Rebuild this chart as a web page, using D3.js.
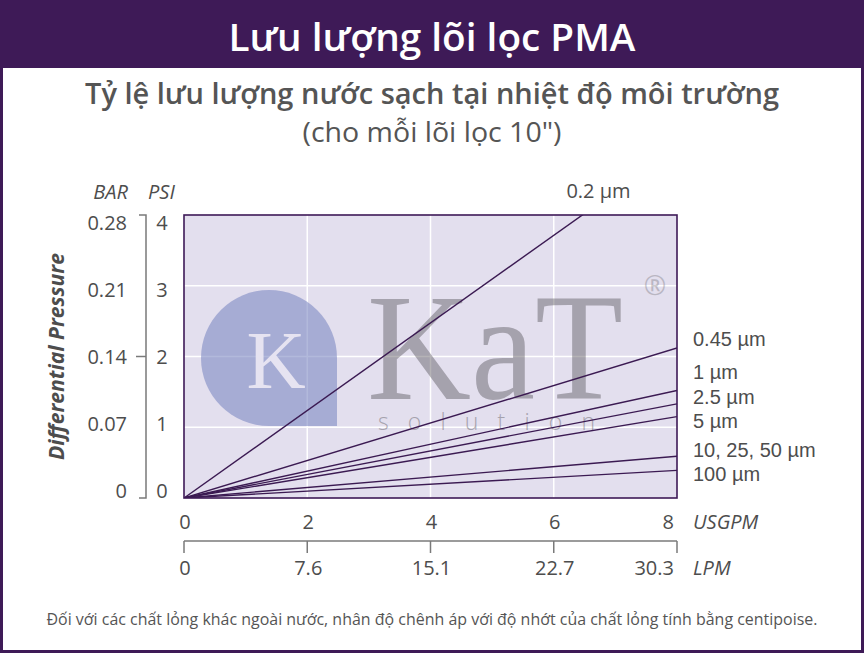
<html>
<head>
<meta charset="utf-8">
<script src="https://d3js.org/d3.v7.min.js"></script>
<style>
  body { margin: 0; background: #fff; }
  svg text { font-family: "Open Sans", "Noto Sans", sans-serif; }
  svg text.serif, svg tspan.serif { font-family: "Liberation Serif", "DejaVu Serif", serif; }
  svg text.tight { font-family: "Liberation Sans", Arial, sans-serif; }
</style>
</head>
<body>
<div id="chart"></div>
<script>
// chart values
const usgpmTicks = [0, 2, 4, 6, 8];
const lpmLabels = ["0", "7.6", "15.1", "22.7", "30.3"];
const psiTicks = [0, 1, 2, 3, 4];
const barLabels = ["0", "0.07", "0.14", "0.21", "0.28"];
const ratings = ["0.2 µm", "0.45 µm", "1 µm", "2.5 µm", "5 µm", "10, 25, 50 µm", "100 µm"];
const psiAt8gpm = [4.95, 2.12, 1.52, 1.33, 1.15, 0.59, 0.39];

// hand placed label nudges (px) for the right-hand labels
const labelNudge = [0, -9, -18, -7, 4, -6, 4];

const W = 864, H = 653;
const purple = "#3e1a57", ink = "#4d4d4d", axisGray = "#7a7a7a";

const svg = d3.select("#chart").append("svg")
    .attr("width", W).attr("height", H);

// frame + title band
svg.append("rect").attr("x", 0).attr("y", 0).attr("width", W).attr("height", H).attr("fill", "#fff");
svg.append("rect").attr("x", 0).attr("y", 0).attr("width", W).attr("height", 68).attr("fill", purple);
svg.append("rect").attr("x", 1.5).attr("y", 1.5).attr("width", W - 3).attr("height", H - 3)
    .attr("fill", "none").attr("stroke", purple).attr("stroke-width", 3);

svg.append("text").attr("x", W / 2).attr("y", 51).attr("text-anchor", "middle")
    .attr("fill", "#fff").attr("font-size", 38.5).attr("font-weight", 600)
    .attr("textLength", 407).attr("lengthAdjust", "spacingAndGlyphs")
    .text("Lưu lượng lõi lọc PMA");
svg.append("text").attr("x", W / 2).attr("y", 104).attr("text-anchor", "middle")
    .attr("fill", "#555").attr("font-size", 29).attr("font-weight", 600)
    .attr("textLength", 694).attr("lengthAdjust", "spacingAndGlyphs")
    .text("Tỷ lệ lưu lượng nước sạch tại nhiệt độ môi trường");
svg.append("text").attr("x", W / 2).attr("y", 142).attr("text-anchor", "middle")
    .attr("fill", "#555").attr("font-size", 27)
    .attr("textLength", 259).attr("lengthAdjust", "spacingAndGlyphs")
    .text("(cho mỗi lõi lọc 10\")");

// scales
const x = d3.scaleLinear().domain([0, 8]).range([184, 677]);
const y = d3.scaleLinear().domain([0, 4]).range([498, 215]);
const yLabel = d3.scaleLinear().domain([0, 4]).range([491, 223]);

// plot background + grid
svg.append("rect").attr("x", x(0)).attr("y", y(4))
    .attr("width", x(8) - x(0)).attr("height", y(0) - y(4)).attr("fill", "#e3dfee");

const grid = svg.append("g").attr("stroke", "#fff").attr("stroke-width", 1.5);
grid.selectAll(".vg").data(usgpmTicks.slice(1, -1)).enter().append("line")
    .attr("x1", d => x(d)).attr("x2", d => x(d)).attr("y1", y(4)).attr("y2", y(0));
grid.selectAll(".hg").data(psiTicks.slice(1, -1)).enter().append("line")
    .attr("y1", d => y(d)).attr("y2", d => y(d)).attr("x1", x(0)).attr("x2", x(8));

// watermark logo (semi transparent, grid shows through)
const wm = svg.append("g");
wm.append("path")
    .attr("d", "M269,426 A68,68 0 1 1 337,358 L337,426 Z")
    .attr("fill", "#7a86c1").attr("opacity", 0.58);
wm.append("text").attr("class", "serif").attr("x", 276).attr("y", 388).attr("text-anchor", "middle")
    .attr("font-size", 82).attr("fill", "#e6e3f1").text("K");
const kat = wm.append("text").attr("fill", "#5c5960").attr("opacity", 0.45);
kat.append("tspan").attr("class", "serif")
    .attr("x", 367).attr("y", 399).attr("font-size", 152)
    .attr("textLength", 256).attr("lengthAdjust", "spacingAndGlyphs")
    .text("KaT");
kat.append("tspan").attr("x", 378).attr("y", 430)
    .attr("font-size", 23).attr("font-weight", 300)
    .attr("textLength", 217).attr("lengthAdjust", "spacing")
    .text("solution");
wm.append("text").attr("x", 655).attr("y", 295).attr("text-anchor", "middle")
    .attr("font-size", 27).attr("fill", "#5c5960").attr("opacity", 0.3).text("®");

// lines
svg.append("clipPath").attr("id", "plotClip").append("rect")
    .attr("x", x(0)).attr("y", y(4)).attr("width", x(8) - x(0)).attr("height", y(0) - y(4));

const lineGen = d3.line().x(d => x(d[0])).y(d => y(d[1]));
svg.append("g").attr("clip-path", "url(#plotClip)")
    .selectAll("path").data(psiAt8gpm).enter().append("path")
    .attr("d", d => lineGen([[0, 0], [8, d]]))
    .attr("fill", "none").attr("stroke", "#3b1a52").attr("stroke-width", 1.4);

// plot border
svg.append("rect").attr("x", x(0)).attr("y", y(4))
    .attr("width", x(8) - x(0)).attr("height", y(0) - y(4))
    .attr("fill", "none").attr("stroke", purple).attr("stroke-width", 1.6);

// line labels: 0.2 µm sits above the plot, the rest stack on the right
svg.append("text").attr("fill", ink).attr("font-size", 20)
    .attr("x", x(4 * 8 / psiAt8gpm[0]) - 16).attr("y", y(4) - 24).attr("dy", "0.35em")
    .text(ratings[0]);
svg.append("g").selectAll("text").data(ratings.slice(1)).enter().append("text")
    .attr("class", "tight").attr("fill", ink).attr("font-size", 20)
    .attr("x", x(8) + 16)
    .attr("y", (d, i) => y(psiAt8gpm[i + 1]) + labelNudge[i + 1])
    .attr("dy", "0.35em")
    .text(d => d);

// left axes (BAR / PSI)
const leftX = 146;
const la = svg.append("g").attr("stroke", axisGray).attr("stroke-width", 1.5).attr("fill", "none");
la.append("path").attr("d", `M${leftX - 7},${y(4)} H${leftX} V${y(0)} H${leftX - 7}`);
la.append("line").attr("x1", leftX - 10).attr("x2", leftX).attr("y1", y(2)).attr("y2", y(2));

const lt = svg.append("g").attr("fill", ink).attr("font-size", 20);
lt.selectAll(".bar").data(barLabels).enter().append("text")
    .attr("x", 127).attr("y", (d, i) => yLabel(psiTicks[i])).attr("dy", "0.35em")
    .attr("text-anchor", "end").text(d => d);
lt.selectAll(".psi").data(psiTicks).enter().append("text")
    .attr("x", 162).attr("y", d => yLabel(d)).attr("dy", "0.35em")
    .attr("text-anchor", "middle").text(d => d);
lt.append("text").attr("x", 128).attr("y", 199).attr("text-anchor", "end")
    .attr("font-style", "italic").text("BAR");
lt.append("text").attr("x", 148).attr("y", 199)
    .attr("font-style", "italic").text("PSI");

svg.append("text")
    .attr("transform", `translate(64,${(253 + 460) / 2}) rotate(-90)`)
    .attr("text-anchor", "middle").attr("fill", ink)
    .attr("font-size", 20.5).attr("font-weight", 700).attr("font-style", "italic")
    .attr("textLength", 207).attr("lengthAdjust", "spacingAndGlyphs")
    .text("Differential Pressure");

// bottom axes (USGPM / LPM)
const axisY = 541;
const ba = svg.append("g").attr("stroke", axisGray).attr("stroke-width", 1.5);
ba.append("line").attr("x1", x(0)).attr("x2", x(8)).attr("y1", axisY).attr("y2", axisY);
ba.selectAll(".tk").data(usgpmTicks).enter().append("line")
    .attr("x1", d => x(d)).attr("x2", d => x(d)).attr("y1", axisY).attr("y2", axisY + 12);

const anchorFor = i => i === usgpmTicks.length - 1 ? "end" : "middle";
const shiftFor = i => i === usgpmTicks.length - 1 ? -3 : 1;
const bt = svg.append("g").attr("fill", ink).attr("font-size", 20);
bt.selectAll(".us").data(usgpmTicks).enter().append("text")
    .attr("x", (d, i) => x(d) + shiftFor(i)).attr("y", 522).attr("dy", "0.35em")
    .attr("text-anchor", (d, i) => anchorFor(i)).text(d => d);
bt.selectAll(".lpm").data(lpmLabels).enter().append("text")
    .attr("x", (d, i) => x(usgpmTicks[i]) + shiftFor(i)).attr("y", 568).attr("dy", "0.35em")
    .attr("text-anchor", (d, i) => anchorFor(i)).text(d => d);
bt.append("text").attr("x", 693).attr("y", 522).attr("dy", "0.35em")
    .attr("font-style", "italic").text("USGPM");
bt.append("text").attr("x", 693).attr("y", 568).attr("dy", "0.35em")
    .attr("font-style", "italic").text("LPM");

// footnote
svg.append("text").attr("x", W / 2).attr("y", 625).attr("text-anchor", "middle")
    .attr("fill", "#555").attr("font-size", 15.5)
    .attr("textLength", 771).attr("lengthAdjust", "spacingAndGlyphs")
    .text("Đối với các chất lỏng khác ngoài nước, nhân độ chênh áp với độ nhớt của chất lỏng tính bằng centipoise.");
</script>
</body>
</html>
